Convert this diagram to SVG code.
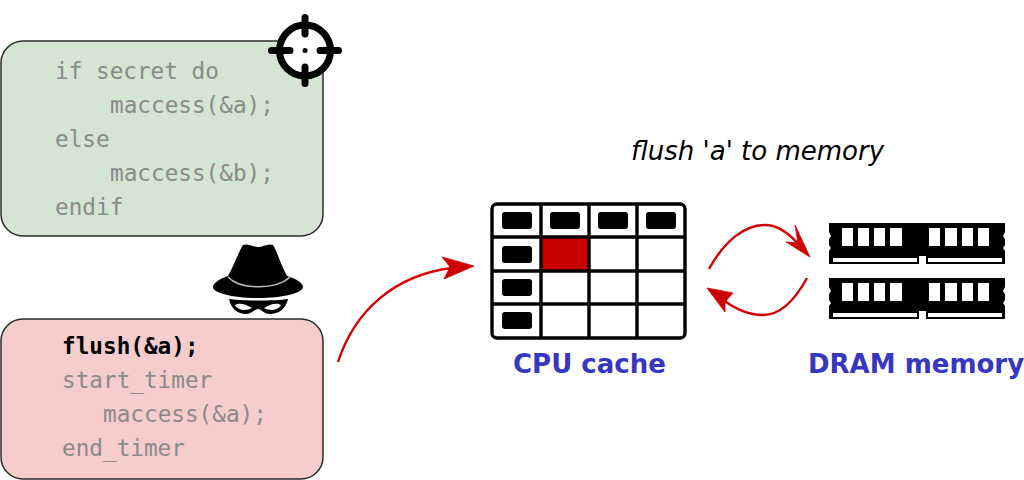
<svg xmlns="http://www.w3.org/2000/svg" width="1024" height="480" viewBox="0 0 1024 480">
<style>
.code{font-family:"DejaVu Sans Mono",monospace;font-size:22.7px;fill:#8a8a8a}
.box{stroke:#2b2b2b;stroke-width:1.5}
.title{font-family:"DejaVu Sans",sans-serif;font-size:26px;font-weight:bold;fill:#3636c0}
.arrow{fill:none;stroke:#d40000;stroke-width:2.4}
.ah{fill:#cc0000;stroke:#d40000;stroke-width:.8}
.tag{fill:#000}
.g{fill:none;stroke:#000;stroke-width:3.4}
</style>
<defs>
<g id="ram">
<path d="M829 223H1005V232L1003 236L1005 239V245L1003 248L1005 251V264H829V251L831 248L829 245V239L831 236L829 232Z" fill="#000"/>
<g fill="#fff"><rect x="842" y="228" width="11" height="18"/><rect x="858" y="228" width="11" height="18"/><rect x="874" y="228" width="11" height="18"/><rect x="890" y="228" width="12" height="18"/><rect x="929" y="228" width="11" height="18"/><rect x="945" y="228" width="12" height="18"/><rect x="962" y="228" width="11" height="18"/><rect x="978" y="228" width="11" height="18"/>
<rect x="833" y="258" width="84" height="4"/><rect x="928" y="258" width="74" height="4"/></g>
<rect x="919" y="256" width="7" height="9" fill="#fff"/>
</g>
</defs>
<g id="victim">
<rect class="box" x="1" y="41" width="322" height="195" rx="22" fill="#d5e5d3"/>
<text class="code" x="55" y="79">if secret do</text>
<text class="code" x="110" y="113">maccess(&amp;a);</text>
<text class="code" x="55" y="147">else</text>
<text class="code" x="110" y="181">maccess(&amp;b);</text>
<text class="code" x="55" y="215">endif</text>
</g>
<g id="target">
<circle cx="305" cy="50.5" r="25.5" fill="#fff" stroke="#000" stroke-width="7"/>
<path d="M305 17.5V34M305 67V83.5M271.5 50.5H290M320 50.5H338.5" stroke="#000" stroke-width="7" stroke-linecap="round" fill="none"/>
<circle cx="305" cy="50.5" r="2.5" fill="#000"/>
</g>
<g id="spy">
<path d="M243 245C248 243 253 247 258 247C263 247 268 243 273 245C276 249 281 265 287 276C295 278 303 283 303 287C303 293 283 298 258 298C233 298 213 293 213 287C213 283 221 278 228 276C234 265 240 249 243 245Z" fill="#000"/>
<path d="M228 277C240 290 276 290 290 277" fill="none" stroke="#bbb" stroke-width="1.6"/>
<path d="M229 299C240 301 276 301 288 299C286 309 278 314 270 314C264 314 261 309 258 309C255 309 252 314 246 314C238 314 231 309 229 299Z" fill="#000"/>
<path d="M235 305C240 302 247 305 252 308C247 311 238 311 235 305ZM281 305C276 302 269 305 264 308C269 311 278 311 281 305Z" fill="#fff"/>
</g>
<g id="attacker">
<rect class="box" x="1" y="319" width="322" height="160" rx="22" fill="#f6cdcb"/>
<text class="code" x="62" y="354" font-weight="bold" style="fill:#000">flush(&amp;a);</text>
<text class="code" x="62" y="388">start_timer</text>
<text class="code" x="103" y="422">maccess(&amp;a);</text>
<text class="code" x="62" y="456">end_timer</text>
</g>
<g id="connectors">
<path class="arrow" d="M338 362C355 310 395 275 452 268"/>
<path class="ah" d="M474 266L442 257L450 267L444 279Z"/>
<path class="arrow" d="M709 269C725 240 745 225 765 225C778 225 790 234 800 246"/>
<path class="ah" d="M810 257L795 225L798 243L786 242Z"/>
<path class="arrow" d="M807 278C795 300 780 315 763 315C748 315 735 309 722 299"/>
<path class="ah" d="M707 288L733 293L725 302L725 312Z"/>
</g>
<g id="cache">
<rect x="492" y="204" width="193" height="134" rx="5" fill="#fff" stroke="#000" stroke-width="3.4"/>
<rect x="542" y="238" width="47" height="32" fill="#c80000"/>
<path class="g" d="M541 204V338M589 204V338M637 204V338M492 237H685M492 271H685M492 304H685"/>
<rect class="tag" x="502" y="212" width="30" height="17" rx="3"/>
<rect class="tag" x="550" y="212" width="30" height="17" rx="3"/>
<rect class="tag" x="598" y="212" width="30" height="17" rx="3"/>
<rect class="tag" x="646" y="212" width="30" height="17" rx="3"/>
<rect class="tag" x="502" y="246" width="30" height="17" rx="3"/>
<rect class="tag" x="502" y="279" width="30" height="17" rx="3"/>
<rect class="tag" x="502" y="312" width="30" height="17" rx="3"/>
<text class="title" x="513" y="373">CPU cache</text>
</g>
<g id="dram">
<use href="#ram"/>
<use href="#ram" y="55"/>
<text class="title" x="808" y="373">DRAM memory</text>
</g>
<text id="caption" x="631" y="160" font-family="DejaVu Sans,sans-serif" font-style="italic" font-size="26px">flush 'a' to memory</text>
</svg>
